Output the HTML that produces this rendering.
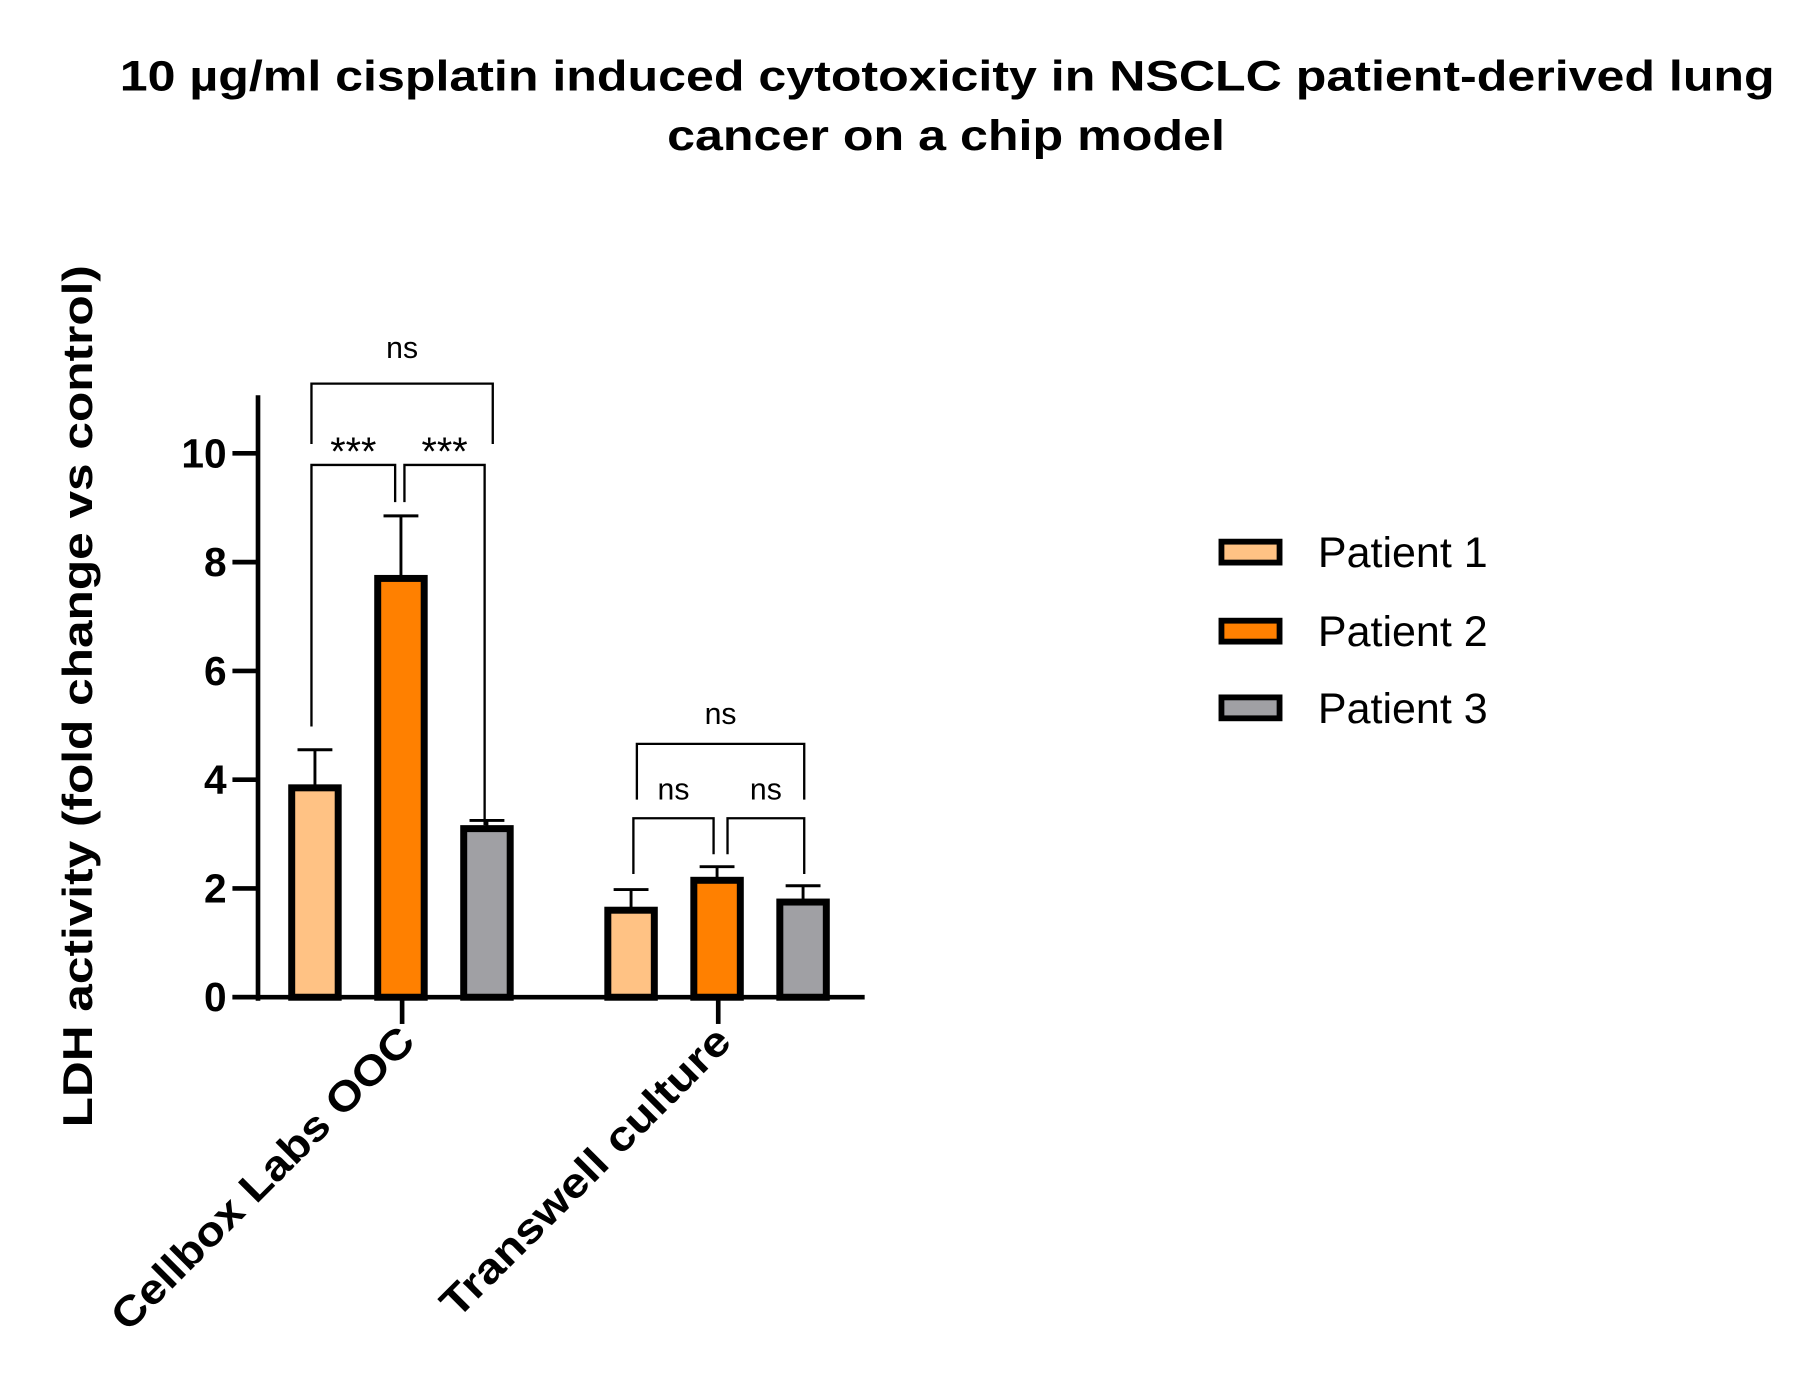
<!DOCTYPE html>
<html><head><meta charset="utf-8"><style>
html,body{margin:0;padding:0;background:#fff;}
svg{display:block;font-family:"Liberation Sans",Arial,sans-serif;}
</style></head><body>
<svg id="chart" width="1813" height="1382" viewBox="0 0 1560 1189">
<g font-weight="bold" font-size="37" text-anchor="middle">
<text x="815" y="78" textLength="1424" lengthAdjust="spacingAndGlyphs">10 µg/ml cisplatin induced cytotoxicity in NSCLC patient-derived lung</text>
<text x="814" y="129" textLength="480" lengthAdjust="spacingAndGlyphs">cancer on a chip model</text>
</g>
<text transform="translate(79,599) rotate(-90)" text-anchor="middle" font-weight="bold" font-size="36" textLength="742" lengthAdjust="spacingAndGlyphs">LDH activity (fold change vs control)</text>
<g id="plot"></g>
<g id="legend"></g>
</svg>
<script>
const categories = ["Cellbox Labs OOC", "Transwell culture"];
const seriesNames = ["Patient 1", "Patient 2", "Patient 3"];
const seriesColors = ["#FFC284", "#FF8000", "#A0A0A4"];
const patient1 = [3.85, 1.6];
const patient2 = [7.7, 2.15];
const patient3 = [3.1, 1.75];
const err1 = [0.7, 0.38];
const err2 = [1.15, 0.25];
const err3 = [0.15, 0.3];
const yTicks = [0, 2, 4, 6, 8, 10];
const series = [patient1, patient2, patient3];
const errs = [err1, err2, err3];
const labelLengths = [352, 336];

const NS = "http://www.w3.org/2000/svg";
const plot = document.getElementById('plot');
const y = v => 858 - v * 46.8;
const groupCenter = i => 346 + i * 272;
const barX = (g, s) => groupCenter(g) + (s - 1) * 74;
function mk(tag, attrs, parent) {
  const e = document.createElementNS(NS, tag);
  for (const k in attrs) e.setAttribute(k, attrs[k]);
  (parent || plot).appendChild(e);
  return e;
}
series.forEach((vals, s) => {
  vals.forEach((v, g) => {
    const cx = barX(g, s) - 1;
    const top = y(v + errs[s][g]);
    const eb = mk('path', {d: `M${cx} ${y(v)}V${top}M${cx-15} ${top}H${cx+15}`, stroke: '#000', 'stroke-width': 2.5, fill: 'none'});
    
    
    const r = mk('rect', {x: cx - 20, y: y(v), width: 40, height: 858 - y(v), fill: seriesColors[s], stroke: '#000', 'stroke-width': 6});
    
    
  });
});
const ya = mk('line', {x1: 222, y1: 340, x2: 222, y2: 861, stroke: '#000', 'stroke-width': 4});


const xa = mk('line', {x1: 200, y1: 858, x2: 744, y2: 858, stroke: '#000', 'stroke-width': 4});


yTicks.forEach(t => {
  mk('line', {x1: 200, y1: y(t), x2: 222, y2: y(t), stroke: '#000', 'stroke-width': 4});
  const tl = mk('text', {x: 195, y: y(t) + 12, 'text-anchor': 'end', 'font-weight': 'bold', 'font-size': 35});
  tl.textContent = t;
  
  
});
categories.forEach((c, i) => {
  const cx = groupCenter(i);
  mk('line', {x1: cx, y1: 858, x2: cx, y2: 881, stroke: '#000', 'stroke-width': 4});
  const tl = mk('text', {transform: `translate(${cx + 13},${898}) rotate(-45)`, 'text-anchor': 'end', 'font-weight': 'bold', 'font-size': 36, textLength: labelLengths[i], lengthAdjust: 'spacingAndGlyphs'});
  tl.textContent = c;
  
  
});
function bracket(x1, x2, yt, yl, yr, label, ty, fs) {
  const p = mk('path', {d: `M${x1} ${yl}V${yt}H${x2}V${yr}`, stroke: '#000', 'stroke-width': 2, fill: 'none'});
  
  
  const t = mk('text', {x: (x1 + x2) / 2, y: ty, 'text-anchor': 'middle', 'font-size': fs});
  t.textContent = label;
  
  
}
bracket(268, 424, 330, 382, 382, 'ns', 308, 26);
bracket(268, 340, 400, 625, 432, '***', 400, 34);
bracket(348, 417, 400, 432, 710, '***', 400, 34);
bracket(548, 692, 640, 688, 688, 'ns', 623, 26);
bracket(545, 614, 704, 752, 735, 'ns', 688, 26);
bracket(626, 692, 704, 735, 752, 'ns', 688, 26);
const lg = document.getElementById('legend');
const ly = [475, 543, 609];
seriesNames.forEach((n, i) => {
  const r = mk('rect', {x: 1051, y: ly[i] - 9, width: 50, height: 18, fill: seriesColors[i], stroke: '#000', 'stroke-width': 5}, lg);
  
  
  const t = mk('text', {x: 1134, y: ly[i] + 13, 'font-size': 37}, lg);
  t.textContent = n;
  
  
});
</script>
</body></html>
